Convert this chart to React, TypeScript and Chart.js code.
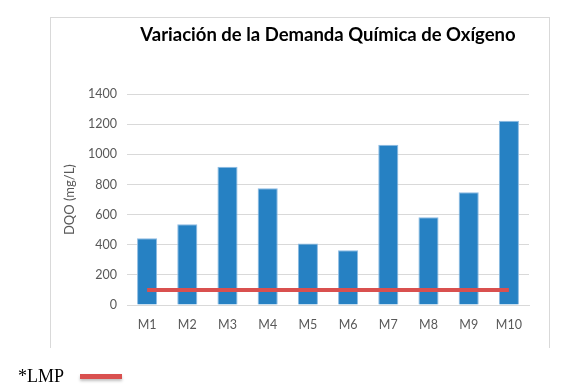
import React, { useEffect, useRef } from "react";
import { Chart, registerables } from "chart.js";

Chart.register(...registerables);

const categories = ["M1", "M2", "M3", "M4", "M5", "M6", "M7", "M8", "M9", "M10"];
const dqoValues = [443, 537, 918, 776, 409, 363, 1064, 582, 748, 1223];
const lmpValues = [100, 100, 100, 100, 100, 100, 100, 100, 100, 100];
const yMin = 0;
const yMax = 1400;
const yStep = 200;
const chartTitle = "Variación de la Demanda Química de Oxígeno";
const yAxisTitle = "DQO (mg/L)";
const legendLabel = "*LMP";

const BAR_COLOR = "#2681c3";
const LINE_COLOR = "#d9504f";
const TEXT_GRAY = "#595959";
const FONT = "Lato, 'Open Sans', sans-serif";

export default function App() {
  const canvasRef = useRef<HTMLCanvasElement | null>(null);

  useEffect(() => {
    const canvas = canvasRef.current;
    if (!canvas) return;
    const chart = new Chart(canvas, {
      type: "bar",
      data: {
        labels: categories,
        datasets: [
          {
            type: "line",
            label: "LMP",
            data: lmpValues,
            borderColor: LINE_COLOR,
            backgroundColor: LINE_COLOR,
            borderWidth: 4,
            pointRadius: 0,
            tension: 0,
            order: 0,
          } as any,
          {
            type: "bar",
            label: "DQO",
            data: dqoValues,
            backgroundColor: BAR_COLOR,
            borderColor: "#8dbbe2",
            borderWidth: 1,
            barPercentage: 0.5,
            categoryPercentage: 1,
            order: 1,
          } as any,
        ],
      },
      options: {
        responsive: false,
        animation: false,
        layout: { padding: { left: 59, right: 43, top: 24, bottom: 53 } },
        plugins: {
          legend: { display: false },
          tooltip: { enabled: false },
          title: {
            display: true,
            text: chartTitle,
            fullSize: false,
            color: "#000",
            font: { family: FONT, size: 18.5, weight: "bold" },
            padding: { top: 0, bottom: 48 },
          },
        },
        scales: {
          x: {
            grid: { display: false },
            border: { display: true, color: "#d9d9d9", width: 1 },
            ticks: {
              color: TEXT_GRAY,
              font: { family: FONT, size: 12.5 },
              padding: 4,
            },
          },
          y: {
            min: yMin,
            max: yMax,
            border: { display: false },
            grid: { color: "#d9d9d9", lineWidth: 1, drawTicks: false },
            ticks: {
              stepSize: yStep,
              color: TEXT_GRAY,
              font: { family: FONT, size: 12.5 },
              padding: 10,
              callback: (v: any) => String(v),
            },
            title: {
              display: true,
              text: yAxisTitle,
              color: TEXT_GRAY,
              font: { family: FONT, size: 13 },
              padding: { top: 3, bottom: 4 },
            },
            afterFit: (scale: any) => {
              scale.width = 68;
            },
          },
        },
      },
    });
    return () => chart.destroy();
  }, []);

  return (
    <div style={{ position: "absolute", left: 0, top: 0, width: 572, height: 389, background: "#fff" }}>
      <div
        style={{
          position: "absolute",
          left: 50,
          top: 17,
          width: 498,
          height: 330,
          borderTop: "1px solid #d9d9d9",
          borderLeft: "1px solid #d9d9d9",
          borderRight: "1px solid #d9d9d9",
        }}
      />
      <canvas ref={canvasRef} width={572} height={389} style={{ position: "absolute", left: 0, top: 0, width: 572, height: 389 }} />
      <span
        style={{
          position: "absolute",
          left: 18,
          top: 366,
          fontFamily: "'Liberation Serif', 'Times New Roman', serif",
          fontSize: 18,
          lineHeight: "20px",
          color: "#000",
          whiteSpace: "nowrap",
        }}
      >
        {legendLabel}
      </span>
      <div
        style={{
          position: "absolute",
          left: 80,
          top: 374,
          width: 42,
          height: 5,
          background: LINE_COLOR,
          boxShadow: "0 2px 3px rgba(0,0,0,0.25)",
        }}
      />
    </div>
  );
}
